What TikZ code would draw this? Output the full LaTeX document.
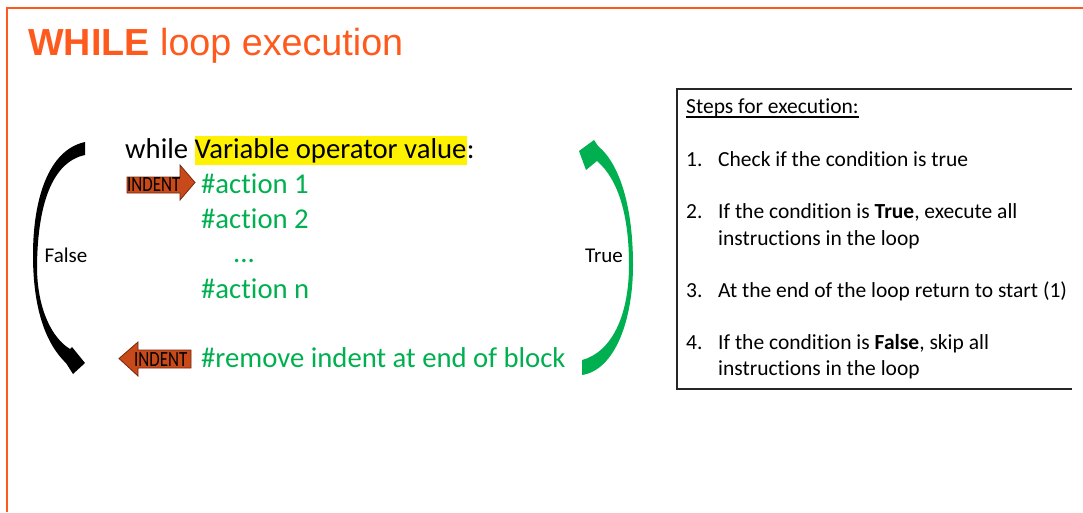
\documentclass[tikz,border=0pt]{standalone}
\usepackage{fontspec}
\usepackage{graphicx}
\setmainfont{Carlito}[Ligatures=CommonOff]
\newfontfamily\titlefont{Liberation Sans}
\definecolor{frameorange}{RGB}{255,90,30}
\definecolor{codegreen}{RGB}{0,176,80}
\definecolor{indentfill}{RGB}{200,74,26}
\definecolor{indentline}{RGB}{115,38,10}
\begin{document}
\begin{tikzpicture}[x=1pt,y=-1pt,
  code/.style={anchor=base west, inner sep=0pt, font=\fontsize{28.7}{34}\selectfont},
  greencode/.style={code, text=codegreen},
  label/.style={anchor=base, inner sep=0pt, font=\fontsize{21}{25}\selectfont},
  steptext/.style={anchor=base west, inner sep=0pt, font=\fontsize{21.5}{26}\selectfont},
  indenttext/.style={anchor=base west, inner sep=0pt, font=\fontsize{21.7}{22}\selectfont},
  indentarrow/.style={fill=indentfill, draw=indentline, line width=0.8pt, line join=miter},
  frameline/.style={draw=frameorange, line width=2pt},
  boxline/.style={draw=black!85, line width=1.8pt}]
\useasboundingbox (0,0) rectangle (1083,512);

% slide frame
\draw[frameline] (6.7,512) -- (6.7,8.3) -- (1083,8.3);

% title
\node[anchor=base west, inner sep=0pt, text=frameorange,
      font=\titlefont\fontsize{37.7}{40}\selectfont] (title) at (28,55)
      {\textbf{WHILE} loop execution};

% while header line
\node[code] (kw) at (125,158) {while};
\node[code, fill=yellow, text height=22pt, text depth=7pt] (hl) at (194.5,158) {Variable operator value};
\node[code] (colon) at (hl.base east) {:};

% loop body
\node[greencode] (a1) at (201,193) {\#action 1};
\node[greencode] (a2) at (201,228) {\#action 2};
\node[greencode] (dots) at (233,262) {...};
\node[greencode] (an) at (201,298) {\#action n};
\node[greencode] (rm) at (201,367) {\#remove indent at end of block};

% indent arrow (right)
\draw[indentarrow] (127,177) -- (180,177) -- (180,165) -- (195,182.5) -- (180,200) -- (180,193) -- (127,193) -- cycle;
\node[indenttext] (ind1) at (127,191.7) {\scalebox{0.78}[1]{INDENT}};

% dedent arrow (left)
\draw[indentarrow] (191,350) -- (138,350) -- (138,342) -- (119,358.5) -- (138,376) -- (138,368) -- (191,368) -- cycle;
\node[indenttext] (ind2) at (134,366) {\scalebox{0.78}[1]{INDENT}};

% False branch: black curved arrow
\fill[black] (85,142) .. controls (48,150) and (33,200) .. (33,255)
  .. controls (33,300) and (42,340) .. (66,363)
  -- (73,374) -- (85,363) -- (72,347) -- (70,349)
  .. controls (52,338) and (38,310) .. (37,270)
  .. controls (37,205) and (52,162) .. (85,155) -- cycle;
\node[label] (false) at (66,262) {False};

% True branch: green curved arrow
\fill[codegreen] (598,146) .. controls (621,165) and (633,210) .. (633,265)
  .. controls (633,320) and (615,370) .. (582,375)
  -- (582,360)
  .. controls (612,352) and (629,315) .. (629,265)
  .. controls (629,217) and (619,180) .. (597,161)
  -- (586,170) -- (579,151) -- (594,140) -- cycle;
\node[label] (true) at (604,262) {True};

% steps box
\draw[boxline] (1072,89) -- (677,89) -- (677,389) -- (1072,389);
\node[steptext] (steps) at (686,113) {Steps for execution:};
\draw[line width=1.2pt] ([yshift=-4pt]steps.base west) -- ([yshift=-4pt]steps.base east);

\node[steptext] (n1) at (686,166) {1.};
\node[steptext] (s1) at (718,166) {Check if the condition is true};
\node[steptext] (n2) at (686,218) {2.};
\node[steptext] (s2a) at (718,218) {If the condition is \textbf{True}, execute all};
\node[steptext] (s2b) at (718,245) {instructions in the loop};
\node[steptext] (n3) at (686,297) {3.};
\node[steptext] (s3) at (718,297) {At the end of the loop return to start (1)};
\node[steptext] (n4) at (686,349) {4.};
\node[steptext] (s4a) at (718,349) {If the condition is \textbf{False}, skip all};
\node[steptext] (s4b) at (718,375) {instructions in the loop};
\end{tikzpicture}
\end{document}
